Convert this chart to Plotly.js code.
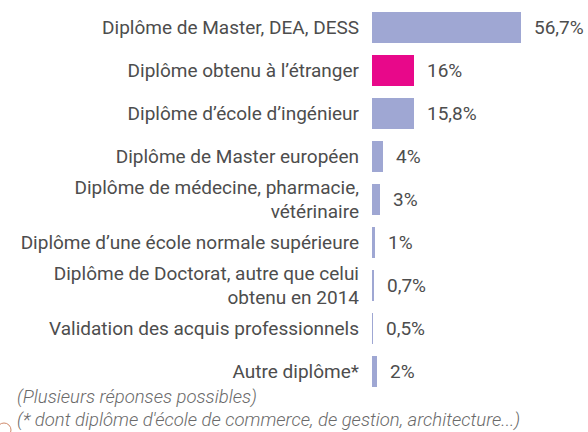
<!DOCTYPE html>
<html>
<head>
<meta charset="utf-8">
<script src="https://cdn.plot.ly/plotly-3.0.1.min.js"></script>
<style>html,body{margin:0;padding:0;background:#fff;}#chart{width:588px;height:432px;}</style>
</head>
<body>
<div id="chart"></div>
<script>
const categories = [
  "Diplôme de Master, DEA, DESS",
  "Diplôme obtenu à l’étranger",
  "Diplôme d’école d’ingénieur",
  "Diplôme de Master européen",
  "Diplôme de médecine, pharmacie,<br>vétérinaire",
  "Diplôme d’une école normale supérieure",
  "Diplôme de Doctorat, autre que celui<br>obtenu en 2014",
  "Validation des acquis professionnels",
  "Autre diplôme*"
];
const values = [56.7, 16, 15.8, 4, 3, 1, 0.7, 0.5, 2];
const valueLabels = ["56,7%", "16%", "15,8%", "4%", "3%", "1%", "0,7%", "0,5%", "2%"];
const highlight = [false, true, false, false, false, false, false, false, false];
const notes = ["(Plusieurs réponses possibles)", "(* dont diplôme d'école de commerce, de gestion, architecture...)"];

const W = 588, H = 432, L = 372, R = 0, T = 6, B = 39;
const pw = W - L - R, ph = H - T - B;
const px2x = p => (p - L) / pw;
const py2y = p => (H - B - p) / ph;

const FONT = "Roboto, 'Open Sans', sans-serif";
const barColors = highlight.map(h => h ? "#e8088a" : "#9fa7d3");

const trace = {
  type: "bar",
  orientation: "h",
  x: values,
  y: categories,
  marker: {color: barColors, line: {width: 0}},
  width: 0.74,
  hoverinfo: "none"
};

const annotations = values.map((v, i) => ({
  x: v, y: categories[i], xref: "x", yref: "y",
  text: valueLabels[i], showarrow: false,
  xanchor: "left", yanchor: "middle", xshift: 11,
  font: {family: FONT, size: 19, color: "#4d4d4d", weight: 400}
}));
const noteShift = [-4, -27];
notes.forEach((t, i) => annotations.push({
  x: px2x(15), y: 0, xref: "paper", yref: "paper",
  text: "<i>" + t + "</i>", showarrow: false,
  xanchor: "left", yanchor: "middle", yshift: noteShift[i],
  font: {family: FONT, size: 18.5, color: "#6a6a6a", weight: 300}
}));

const layout = {
  width: W, height: H,
  margin: {l: L, r: R, t: T, b: B, pad: 0},
  paper_bgcolor: "#fff", plot_bgcolor: "#fff",
  showlegend: false,
  bargap: 0,
  xaxis: {range: [0, 82], visible: false, fixedrange: true},
  yaxis: {
    type: "category",
    range: [8.5, -0.5],
    showgrid: false, zeroline: false, showline: false,
    ticks: "", ticklabelstandoff: 12,
    automargin: false,
    tickfont: {family: FONT, size: 19, color: "#4d4d4d", weight: 400}
  },
  annotations: annotations,
  shapes: [{
    type: "circle", xref: "paper", yref: "paper",
    x0: px2x(-3), x1: px2x(11), y0: py2y(423), y1: py2y(437),
    line: {color: "#cf8a6b", width: 1}
  }]
};

Plotly.newPlot("chart", [trace], layout, {staticPlot: true, displayModeBar: false});
</script>
</body>
</html>
